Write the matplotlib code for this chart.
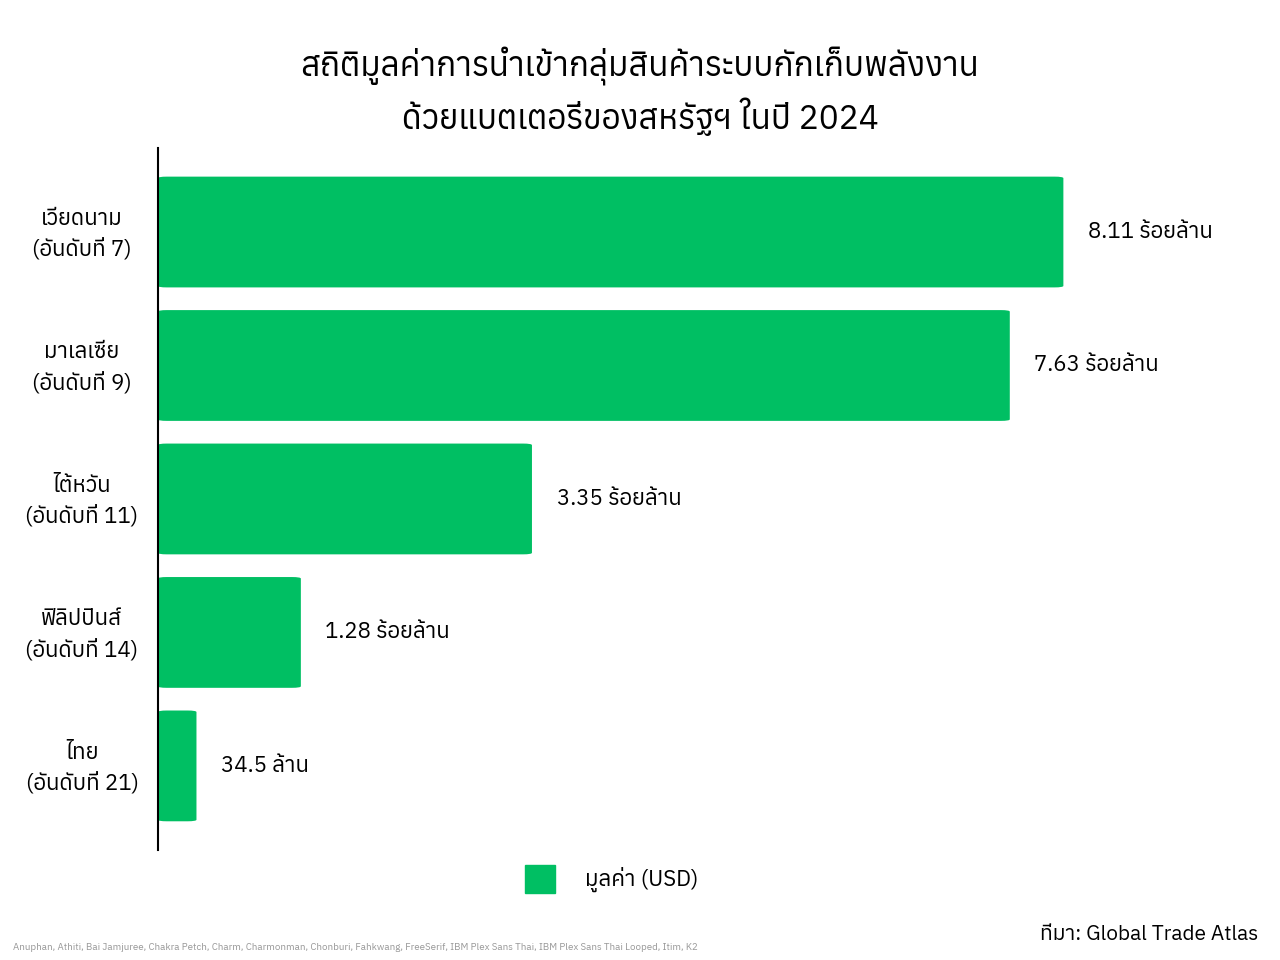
import matplotlib
matplotlib.use("Agg")
import matplotlib.pyplot as plt
from matplotlib import font_manager as fm
from matplotlib.ft2font import FT2Font
from matplotlib.patches import FancyBboxPatch

countries = ["เวียดนาม", "มาเลเซีย", "ไต้หวัน", "ฟิลิปปินส์", "ไทย"]
ranks = ["(อันดับที่ 7)", "(อันดับที่ 9)", "(อันดับที่ 11)", "(อันดับที่ 14)", "(อันดับที่ 21)"]
values = [8.11, 7.63, 3.35, 1.28, 0.345]  # hundreds of millions USD
labels = ["8.11 ร้อยล้าน", "7.63 ร้อยล้าน", "3.35 ร้อยล้าน", "1.28 ร้อยล้าน", "34.5 ล้าน"]

thai = []
for f in fm.fontManager.ttflist:
    try:
        if FT2Font(f.fname).get_char_index(ord("ก")):
            thai.append(f.name)
    except Exception:
        pass
thai = sorted(set(thai))
fam = thai + ["DejaVu Sans"] if thai else ["DejaVu Sans"]
plt.rcParams["font.family"] = fam

color = "#00BF63"
fig = plt.figure(figsize=(12.8, 9.6), dpi=100)
ax = fig.add_axes([0.1234, 0.1146, 0.86, 0.7313])
ys = list(range(len(values)))
bars = ax.barh(ys, values, height=0.83, color="none")
for b in bars:
    ax.add_patch(FancyBboxPatch((b.get_x(), b.get_y()), b.get_width(), b.get_height(),
                                boxstyle="round,pad=0,rounding_size=0.08", mutation_aspect=1/8.3*1.2,
                                color=color, lw=0))
ax.set_xlim(0, 9.86)
ax.set_ylim(4.63, -0.63)
for y, v, l in zip(ys, values, labels):
    ax.text(v + 0.22, y, l, va="center", ha="left", fontsize=16, fontweight="bold")
ax.set_yticks([])
ax.set_xticks([])
for s in ["top", "right", "bottom"]:
    ax.spines[s].set_visible(False)
ax.spines["left"].set_linewidth(1.5)
for y, c, r in zip(ys, countries, ranks):
    ax.text(-0.16, y - 0.1, c, ha="center", va="center", fontsize=16, fontweight="bold", transform=ax.transData)
    ax.text(-0.16, y + 0.13, r, ha="center", va="center", fontsize=16)
for t in ax.texts[-10:]:
    t.set_x(-0.68)
fig.text(0.5, 0.905, "สถิติมูลค่าการนำเข้ากลุ่มสินค้าระบบกักเก็บพลังงาน\nด้วยแบตเตอรี่ของสหรัฐฯ ในปี 2024",
         ha="center", va="center", fontsize=24, linespacing=1.4)
fig.patches.append(plt.Rectangle((525/1280, 1-893/960), 30/1280, 28/960, transform=fig.transFigure,
                                 color=color, figure=fig))
fig.text(585/1280, 1-879/960, "มูลค่า (USD)", fontsize=16, fontweight="bold", va="center")
fig.text(1258/1280, 1-934/960, "ที่มา: Global Trade Atlas", fontsize=15, ha="right", va="center")
fig.text(0.01, 0.01, ", ".join(thai)[:150], fontsize=7, color="#999999")
fig.savefig("out.png", dpi=100)
